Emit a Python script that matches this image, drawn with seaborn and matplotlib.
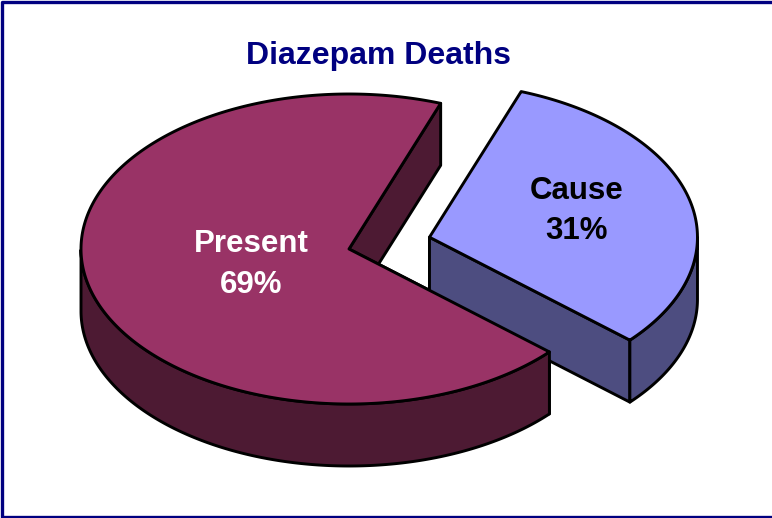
"""
Diazepam Deaths: exploded 3D-look pie drawn with seaborn theme and matplotlib patches.
"""
import numpy as np
import matplotlib
matplotlib.use("Agg")
import matplotlib.pyplot as plt
import seaborn as sns

categories = ["Present", "Cause"]
values = [69, 31]
top_colors = ["#993366", "#9999FF"]
side_colors = ["#4D1A33", "#4D4D80"]

sns.set_theme(style="white")
plt.rcParams["font.family"] = ["Liberation Sans", "DejaVu Sans"]

# pie geometry in pixels of the 772x518 canvas
CENTER = np.array([349.0, 249.0])
RX, RY = 268.0, 155.0
DEPTH = 62.0
START_ANGLE = 70.0
EXPLODE = 83.0
LW = 2.1

top_pal = sns.color_palette(top_colors)
side_pal = sns.color_palette(side_colors)


def ellipse_pts(center, a0, a1, n=200):
    t = np.radians(np.linspace(a0, a1, n))
    return np.column_stack([center[0] + RX * np.cos(t), center[1] - RY * np.sin(t)])


def draw_slice(ax, center, a0, a1, top, side):
    down = np.array([0, DEPTH])
    # cut faces first, the top hides whatever should not show
    for a in (a0, a1):
        p = ellipse_pts(center, a, a, 1)[0]
        face = np.array([center, p, p + down, center + down])
        if p[1] < center[1] and a == a0 or p[1] > center[1]:
            ax.fill(face[:, 0], face[:, 1], facecolor=side, edgecolor="black", lw=LW,
                    joinstyle="round", zorder=2)
    # outer wall only where the rim faces the viewer
    angles = np.linspace(a0, a1, 600)
    low = angles[np.sin(np.radians(angles)) <= 0]
    if len(low):
        rim = ellipse_pts(center, low[0], low[-1], 300)
        wall = np.vstack([rim, rim[::-1] + down])
        ax.fill(wall[:, 0], wall[:, 1], facecolor=side, edgecolor="black", lw=LW,
                joinstyle="round", zorder=3)
    arc = ellipse_pts(center, a0, a1, 400)
    poly = np.vstack([center, arc])
    ax.fill(poly[:, 0], poly[:, 1], facecolor=top, edgecolor="black", lw=LW,
            joinstyle="round", zorder=4)


fig = plt.figure(figsize=(7.72, 5.18), dpi=100)
ax = fig.add_axes([0, 0, 1, 1])
ax.set_xlim(0, 772)
ax.set_ylim(518, 0)
ax.axis("off")

shares = np.array(values) / sum(values) * 360
present_a0 = START_ANGLE
present_a1 = present_a0 + shares[0]
cause_a0 = present_a1
cause_a1 = cause_a0 + shares[1]

mid = np.radians((cause_a0 + cause_a1) / 2)
offset = np.array([np.cos(mid), -np.sin(mid) * RY / RX]) * EXPLODE

draw_slice(ax, CENTER, present_a0, present_a1, top_pal[0], side_pal[0])
draw_slice(ax, CENTER + offset, cause_a0 - 360, cause_a1 - 360, top_pal[1], side_pal[1])

label_size = 22.5
ax.text(251.5, 264.5, f"{categories[0]}\n{values[0]}%", color="white", fontsize=label_size,
        fontweight="bold", ha="center", va="center", linespacing=1.44, zorder=5)
ax.text(577, 211, f"{categories[1]}\n{values[1]}%", color="black", fontsize=label_size,
        fontweight="bold", ha="center", va="center", linespacing=1.44, zorder=5)
ax.text(378, 56, "Diazepam Deaths", color="#000080", fontsize=23,
        fontweight="bold", ha="center", va="center", zorder=5)

# navy frame around the picture
ax.plot([772, 1.5, 1.5, 772], [1.5, 1.5, 516.5, 516.5], color="#000080", lw=2.4, zorder=6)
ax.plot([771.5, 771.5], [0, 518], color="#000080", lw=0.7, zorder=6)

fig.savefig("out.png", dpi=100)
plt.close(fig)
